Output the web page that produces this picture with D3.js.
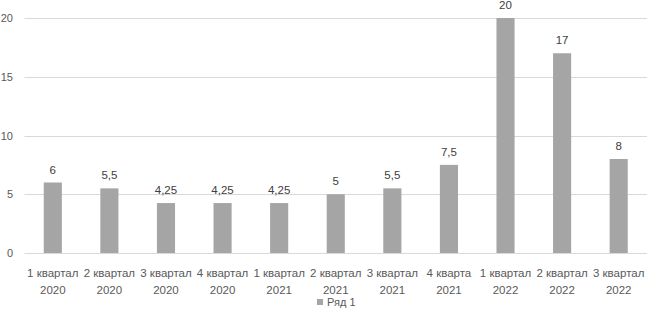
<!DOCTYPE html>
<html><head><meta charset="utf-8">
<script src="https://cdn.jsdelivr.net/npm/d3@7"></script>
<style>body{margin:0;background:#fff;} svg{display:block;}</style>
</head><body>
<svg id="c" width="648" height="310"></svg>
<script>
const categories = [["1 квартал","2020"],["2 квартал","2020"],["3 квартал","2020"],["4 квартал","2020"],["1 квартал","2021"],["2 квартал","2021"],["3 квартал","2021"],["4 кварта","2021"],["1 квартал","2022"],["2 квартал","2022"],["3 квартал","2022"]];
const values = [6, 5.5, 4.25, 4.25, 4.25, 5, 5.5, 7.5, 20, 17, 8];
const yTicks = [0, 5, 10, 15, 20];
const seriesName = "Ряд 1";

(function () {
const svg = d3.select("#c");
const font = "'Liberation Sans', Arial, sans-serif";
const pl = 24.5, pr = 647, pt = 18, pb = 253;
const x = d3.scaleBand().domain(d3.range(categories.length)).range([pl, pr]).paddingInner(0.68).paddingOuter(0.34);
const y = d3.scaleLinear().domain([0, 20]).range([pb, pt]);

svg.append("g").selectAll("line").data(yTicks).join("line")
  .attr("x1", pl).attr("x2", pr).attr("y1", d => Math.round(y(d)) + 0.5).attr("y2", d => Math.round(y(d)) + 0.5)
  .attr("stroke", "#d9d9d9").attr("stroke-width", 1);

svg.append("g").selectAll("text").data(yTicks).join("text")
  .attr("x", 13).attr("y", d => y(d) + 4).attr("text-anchor", "end")
  .attr("font-family", font).attr("font-size", 11).attr("fill", "#595959").text(d => d);

svg.append("g").selectAll("rect").data(values).join("rect")
  .attr("x", (d, i) => x(i)).attr("width", x.bandwidth())
  .attr("y", d => y(d)).attr("height", d => y(0) - y(d))
  .attr("fill", "#a5a5a5");

const fmt = v => String(v).replace(".", ",");
svg.append("g").selectAll("text").data(values).join("text")
  .attr("x", (d, i) => x(i) + x.bandwidth() / 2).attr("y", d => y(d) - 9)
  .attr("text-anchor", "middle").attr("font-family", font).attr("font-size", 11.5).attr("fill", "#404040")
  .text(fmt);

const cat = svg.append("g").selectAll("text").data(categories).join("text")
  .attr("text-anchor", "middle").attr("font-family", font).attr("font-size", 11.5).attr("fill", "#595959");
cat.append("tspan").attr("x", (d, i) => x(i) + x.bandwidth() / 2).attr("y", 277).text(d => d[0]);
cat.append("tspan").attr("x", (d, i) => x(i) + x.bandwidth() / 2).attr("y", 294).text(d => d[1]);

const lg = svg.append("g");
lg.append("rect").attr("x", 317).attr("y", 299).attr("width", 6).attr("height", 6).attr("fill", "#a5a5a5");
lg.append("text").attr("x", 327).attr("y", 306).attr("font-family", font).attr("font-size", 11).attr("fill", "#595959").text(seriesName);
})();
</script>
</body></html>
